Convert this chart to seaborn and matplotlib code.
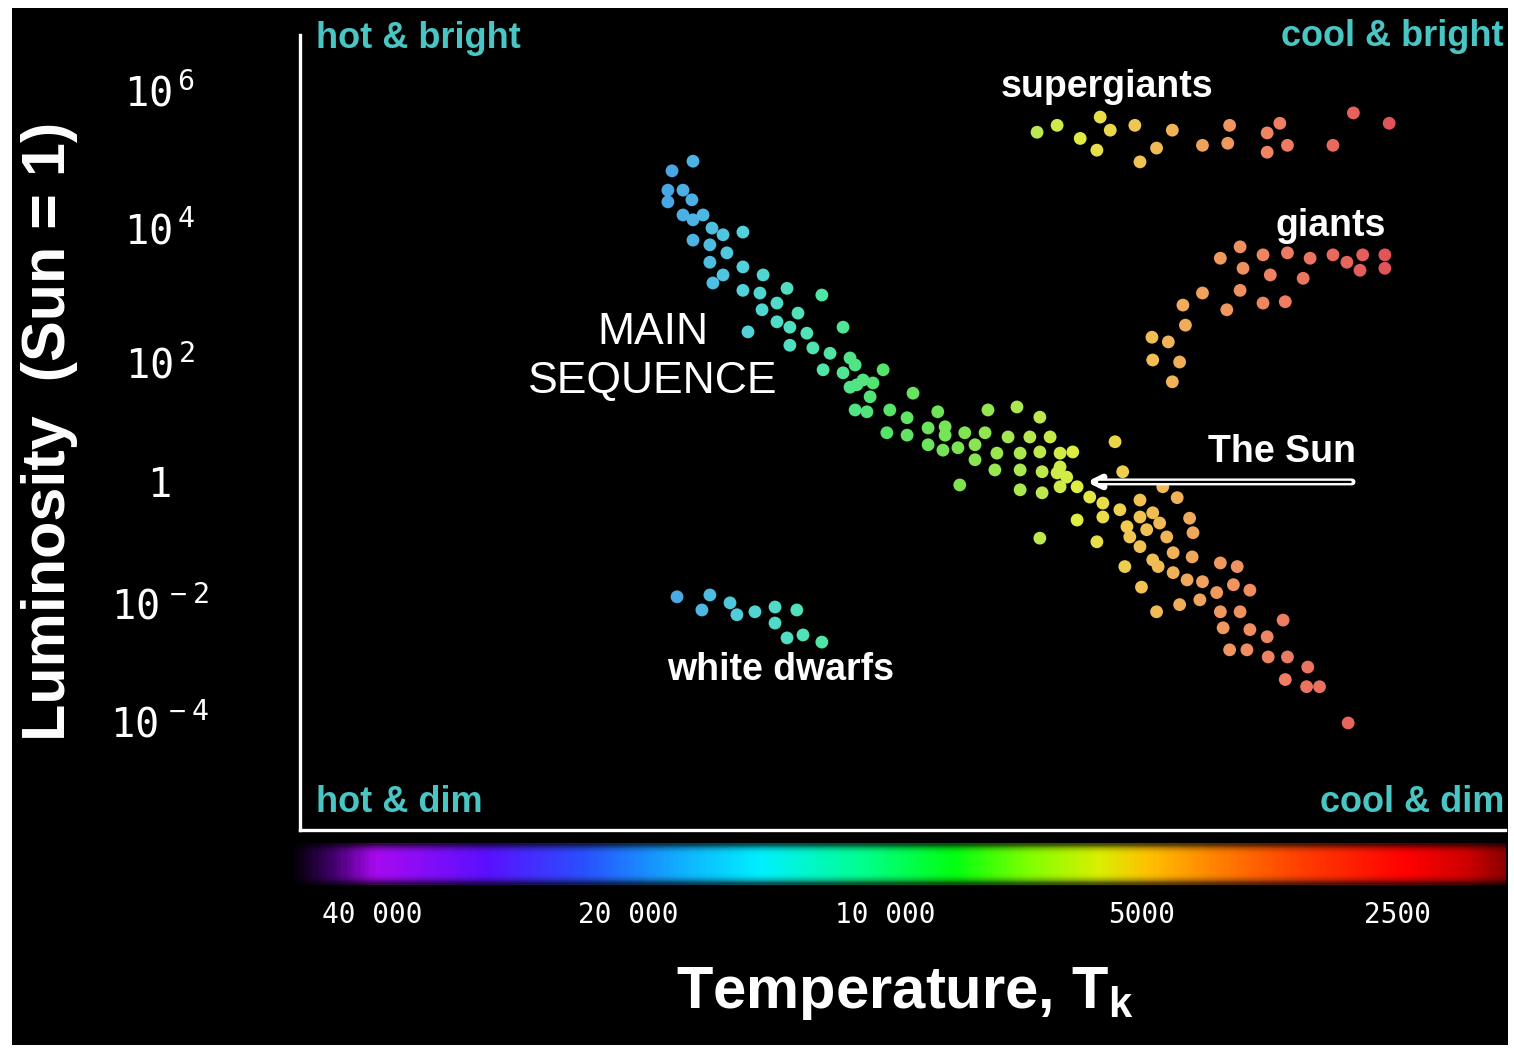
"""Hertzsprung-Russell diagram"""

import numpy as np
import pandas as pd
import matplotlib
matplotlib.use("Agg")
import matplotlib.pyplot as plt
import seaborn as sns
from matplotlib.colors import LinearSegmentedColormap, LogNorm
from matplotlib.patches import Rectangle
from matplotlib.ticker import NullLocator

# ---- data: surface temperature (K) and log10 luminosity (Sun = 1) ----
ms_temp = [16800, 17780, 17980, 17980, 17260, 16850, 17260, 16800, 16350, 15960,
           15490, 14680, 16800, 16050, 15330, 16050, 14680, 15490, 15920, 13900,
           14680, 14020, 13030, 11860, 13390, 13940, 12650, 13390, 12930, 12350,
           11200, 14480, 12930, 12150, 11600, 10990, 11820, 11200, 10050, 10610,
           10990, 10840, 10790, 10330, 10410, 9270, 10840, 10500, 9870, 9420,
           8670, 9950, 9420, 8900, 8500, 8900, 8500, 8550, 8060, 8210,
           7840, 7630, 7840, 7570, 7000, 6580, 7390, 7430, 8170, 7170,
           6940, 6940, 6940, 6760, 6580, 6400, 6540, 6540, 6230, 6020,
           6280, 6120, 5950, 6230, 5950, 5750, 6580, 5640, 5550, 5370,
           6230, 5550, 5300, 5260, 5200, 5020, 5020, 5160, 4930, 4720,
           4850, 4760, 5020, 4670, 4540, 5230, 4590, 4850, 5000, 4390,
           4350, 4360, 4590, 4420, 4240, 4800, 4510, 4270, 4040, 3860,
           4080, 3900, 3730, 4040, 3830, 4010, 3730, 3560, 3410, 3940,
           3760, 4780, 3550, 3370, 3190, 3390, 3200, 3090, 2860]
ms_loglum = [4.97, 4.83, 4.55, 4.38, 4.55, 4.41, 4.19, 4.12, 4.19, 4.00,
             3.90, 3.94, 3.82, 3.75, 3.63, 3.49, 3.42, 3.30, 3.18, 3.30,
             3.07, 3.03, 3.10, 3.00, 2.88, 2.78, 2.73, 2.60, 2.52, 2.43,
             2.52, 2.45, 2.25, 2.21, 2.13, 2.06, 1.87, 1.82, 1.87, 1.70,
             1.58, 1.95, 1.62, 1.65, 1.42, 1.48, 1.20, 1.17, 1.20, 1.07,
             1.17, 0.82, 0.78, 0.90, 0.92, 0.62, 0.78, 0.53, 0.82, 0.57,
             0.62, 0.82, 0.37, 1.20, 1.25, 1.08, 0.48, 0.20, -0.05, 0.75,
             0.48, 0.20, -0.13, 0.75, 0.50, 0.75, 0.17, -0.18, 0.48, 0.50,
             0.15, 0.08, -0.08, -0.08, -0.63, -0.25, -0.93, -0.99, -0.58, 0.67,
             0.25, -0.35, -0.46, 0.17, -0.74, -0.30, -0.58, -0.91, -0.79, -0.08,
             -0.51, -0.68, -1.07, -0.91, -0.26, -1.40, -1.17, -1.29, -1.74, -0.60,
             -0.84, -1.24, -1.50, -1.62, -1.65, -2.15, -2.03, -1.95, -1.34, -1.40,
             -1.83, -1.70, -1.79, -2.15, -2.15, -2.42, -2.45, -2.57, -2.29, -2.79,
             -2.79, -1.40, -2.91, -2.91, -3.08, -3.29, -3.41, -3.41, -4.02]

sg_temp = [6630, 6280, 5900, 5590, 5440, 5640, 5090, 5020, 4800, 4600,
           4240, 3960, 3940, 3560, 3440, 3560, 3370, 2980, 2820, 2560]
sg_loglum = [5.39, 5.49, 5.30, 5.61, 5.42, 5.13, 5.49, 4.96, 5.16, 5.42,
             5.20, 5.23, 5.49, 5.38, 5.52, 5.10, 5.20, 5.20, 5.67, 5.52]

gi_temp = [3830, 4040, 3600, 3370, 3170, 2980, 2870, 2750, 2590, 2590,
           2770, 3800, 3530, 3230, 4240, 3830, 3600, 3390, 4470, 3970,
           4440, 4860, 4650, 4850, 4510, 4600]
gi_loglum = [3.72, 3.55, 3.60, 3.63, 3.55, 3.60, 3.49, 3.60, 3.60, 3.40,
             3.37, 3.40, 3.30, 3.25, 3.03, 3.07, 2.88, 2.90, 2.85, 2.78,
             2.55, 2.37, 2.30, 2.03, 2.00, 1.67]

wd_temp = [17540, 16400, 16050, 15200, 14920, 14210, 13460, 13460, 12690, 13030,
           12480, 11860]
wd_loglum = [-1.90, -2.12, -1.87, -2.00, -2.20, -2.15, -2.07, -2.34, -2.12, -2.59,
             -2.54, -2.66]

sun_temp, sun_loglum = 5800, 0.0

x_ticks = [40000, 20000, 10000, 5000, 2500]
x_tick_labels = ["40 000", "20 000", "10 000", "5000", "2500"]
y_ticks = [-4, -2, 0, 2, 4, 6]
y_tick_labels = [r"$\mathregular{10^{\,-4}}$", r"$\mathregular{10^{\,-2}}$", "1",
                 r"$\mathregular{10^{\,2}}$", r"$\mathregular{10^{\,4}}$",
                 r"$\mathregular{10^{\,6}}$"]

# ---- styling ----
W, H = 1514, 1050
T_HOT, T_COOL = 48590, 1872          # main axes limits
BAR_HOT, BAR_COOL = 50200, 1870      # colour strip limits
TEAL = "#49c6c4"
NARROW = ["Liberation Sans Narrow", "Liberation Sans", "DejaVu Sans"]

# the hand drawn luminosity axis is not evenly spaced
lum_knots = [-8, -4, -2, 0, 2, 4, 6, 10]
pix_knots = [-238, 0, 119, 240, 360, 494, 632, 908]


def fwd(v):
    return np.interp(v, lum_knots, pix_knots)


def inv(p):
    return np.interp(p, pix_knots, lum_knots)


def fxy(px, py):
    return px / W, 1 - py / H


spectrum = LinearSegmentedColormap.from_list("spectrum", [
    (0.000, "#000000"), (0.034, "#40006a"), (0.070, "#a80af0"),
    (0.162, "#5a10ff"), (0.241, "#2a50ff"), (0.321, "#10b0ff"),
    (0.388, "#00f0ff"), (0.470, "#00ff90"), (0.547, "#00ff10"),
    (0.609, "#80ff00"), (0.666, "#d8f000"), (0.708, "#ffc000"),
    (0.765, "#ff8000"), (0.831, "#ff4000"), (0.920, "#ff0000"),
    (0.970, "#d00000"), (1.000, "#900000")])

# star dots are paler than the strip
star_cmap = LinearSegmentedColormap.from_list("stars", [
    (0.000, "#48a4e4"), (0.305, "#48a4e4"), (0.330, "#4cb0e4"),
    (0.371, "#50d0dc"), (0.429, "#50e4b4"), (0.486, "#52e46c"),
    (0.552, "#7ce452"), (0.617, "#bce850"), (0.650, "#e0ee40"),
    (0.691, "#f0ca50"), (0.749, "#f0a45c"), (0.814, "#ef8062"),
    (0.905, "#e0545a"), (1.000, "#d04048")])

stars = pd.concat([
    pd.DataFrame({"temp": ms_temp, "loglum": ms_loglum, "group": "main sequence"}),
    pd.DataFrame({"temp": sg_temp, "loglum": sg_loglum, "group": "supergiants"}),
    pd.DataFrame({"temp": gi_temp, "loglum": gi_loglum, "group": "giants"}),
    pd.DataFrame({"temp": wd_temp, "loglum": wd_loglum, "group": "white dwarfs"}),
], ignore_index=True)

sns.set_style("dark")
plt.rcParams["font.family"] = ["Liberation Sans", "DejaVu Sans"]

fig = plt.figure(figsize=(W / 100, H / 100), dpi=100, facecolor="white")
fig.add_artist(Rectangle((12 / W, 5 / H), 1496 / W, 1037 / H,
                         transform=fig.transFigure, facecolor="black",
                         edgecolor="none", zorder=-1))

ax = fig.add_axes([300 / W, 1 - 830 / H, 1205 / W, 795 / H])
ax.set_facecolor("black")

sns.scatterplot(data=stars, x="temp", y="loglum", hue="temp",
                palette=star_cmap.reversed(),
                hue_norm=LogNorm(vmin=BAR_COOL, vmax=BAR_HOT),
                s=85, marker="o", edgecolor="none", legend=False, ax=ax)

ax.set_xscale("log")
ax.set_xlim(T_HOT, T_COOL)
ax.set_yscale("function", functions=(fwd, inv))
ax.set_ylim(-5.82, 6.8)
ax.set_xticks(x_ticks, x_tick_labels)
ax.xaxis.set_minor_locator(NullLocator())
ax.set_yticks(y_ticks, y_tick_labels)
ax.yaxis.set_minor_locator(NullLocator())
ax.set_xlabel("")
ax.set_ylabel("")
ax.grid(False)

for side in ["top", "right"]:
    ax.spines[side].set_visible(False)
for side in ["left", "bottom"]:
    ax.spines[side].set_color("white")
    ax.spines[side].set_linewidth(2.4)

ax.tick_params(axis="y", colors="white", length=29, width=2.4, pad=72,
               labelsize=29)
ax.tick_params(axis="x", colors="white", length=9, width=2, pad=42,
               labelsize=20)
for lab in ax.get_yticklabels():
    lab.set_horizontalalignment("center")
    lab.set_family(["DejaVu Sans Mono"])
for lab in ax.get_xticklabels():
    lab.set_family(["DejaVu Sans Mono"])

# Sun marker: hollow double-line arrow
ax.annotate("", xy=(sun_temp, sun_loglum), xytext=(2830, sun_loglum),
            arrowprops=dict(arrowstyle="->,head_length=0.7,head_width=0.35",
                            color="white", lw=5, shrinkA=0, shrinkB=0))
ax.annotate("", xy=(sun_temp, sun_loglum), xytext=(2830, sun_loglum),
            arrowprops=dict(arrowstyle="-", color="black", lw=1.6,
                            shrinkA=1, shrinkB=9))

# temperature colour strip
bar = fig.add_axes([288 / W, 1 - 885 / H, 1218 / W, 42 / H])
grad = spectrum(np.linspace(0, 1, 600))[None, :, :]
fade = np.array([0.35, 0.75, 0.95, 1, 1, 1, 1, 1, 1, 0.95, 0.75, 0.35])[:, None, None]
strip = grad.repeat(len(fade), axis=0)
strip[..., :3] *= fade
bar.imshow(strip, aspect="auto", extent=(0, 1, 0, 1), interpolation="bilinear")
bar.axis("off")

# labels
fig.text(*fxy(50, 431), "Luminosity  (Sun = 1)", rotation=90, color="white",
         fontsize=44, fontweight="bold", ha="center", va="center")
fig.text(*fxy(905, 993), r"Temperature, T$_\mathregular{k}$", color="white",
         fontsize=43, fontweight="bold", ha="center", va="center")
fig.text(*fxy(653, 357), "MAIN\nSEQUENCE", color="white", fontsize=32,
         ha="center", va="center", multialignment="center", linespacing=1.25)

for txt, px, py, ha in [("hot & bright", 316, 38, "left"),
                        ("cool & bright", 1504, 36, "right"),
                        ("hot & dim", 316, 803, "left"),
                        ("cool & dim", 1504, 802, "right")]:
    fig.text(*fxy(px, py), txt, color=TEAL, fontsize=26, fontweight="bold",
             family=NARROW, ha=ha, va="center")

for txt, px, py in [("supergiants", 1107, 87), ("giants", 1331, 226),
                    ("white dwarfs", 781, 670), ("The Sun", 1282, 452)]:
    fig.text(*fxy(px, py), txt, color="white", fontsize=27, fontweight="bold",
             family=NARROW, ha="center", va="center")

fig.savefig("out.png", dpi=100, facecolor=fig.get_facecolor())
